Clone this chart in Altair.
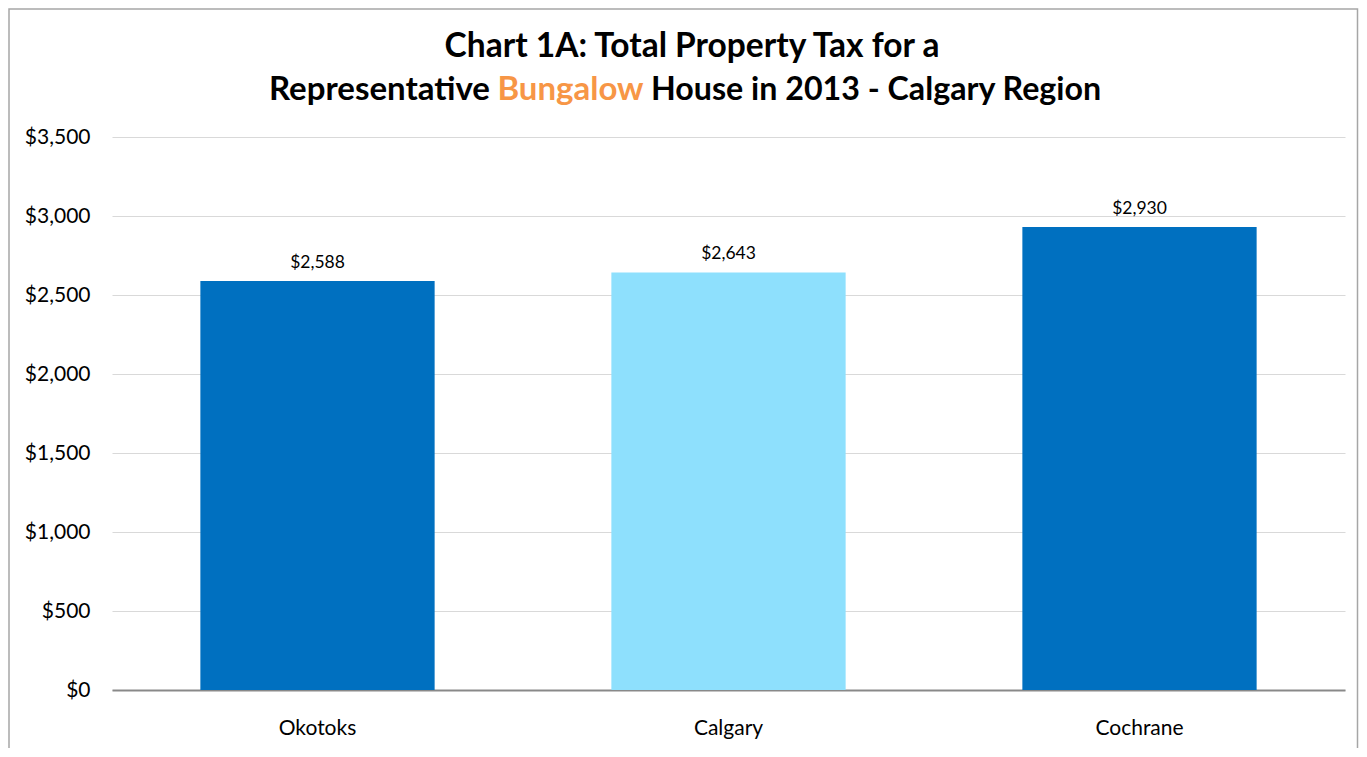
import altair as alt
import pandas as pd

categories = ["Okotoks", "Calgary", "Cochrane"]
values = [2588, 2643, 2930]
bar_colors = ["#0070C0", "#8EE0FD", "#0070C0"]
y_ticks = [0, 500, 1000, 1500, 2000, 2500, 3000, 3500]

title_line1 = "Chart 1A: Total Property Tax for a"
title_line2_a = "Representative"
title_line2_b = "Bungalow"
title_line2_c = "House in 2013 - Calgary Region"

FONT = "Lato"
W, H = 1233, 553

df = pd.DataFrame({"Municipality": categories, "Tax": values, "Colour": bar_colors})

x_enc = alt.X(
    "Municipality:N",
    sort=categories,
    scale=alt.Scale(paddingInner=0.43, paddingOuter=0.215),
    axis=alt.Axis(
        title=None, labelAngle=0, ticks=False, labelFontSize=21, labelFont=FONT,
        labelColor="#000000", labelPadding=27, domainColor="#898989", domainWidth=2,
    ),
)
y_enc = alt.Y(
    "Tax:Q",
    scale=alt.Scale(domain=[0, 3500], nice=False),
    axis=alt.Axis(
        title=None, values=y_ticks, format="$,.0f", ticks=False, domain=False,
        labelFontSize=21, labelFont=FONT, labelColor="#000000", labelPadding=22,
        gridColor="#d9d9d9", gridWidth=1,
    ),
)

bars = alt.Chart(df).mark_bar().encode(
    x=x_enc,
    y=y_enc,
    color=alt.Color("Colour:N", scale=None),
)

labels = alt.Chart(df).mark_text(
    baseline="bottom", dy=-9, fontSize=17.5, font=FONT, color="#000000"
).encode(
    x=alt.X("Municipality:N", sort=categories),
    y=alt.Y("Tax:Q"),
    text=alt.Text("Tax:Q", format="$,.0f"),
)

title_df = pd.DataFrame({"t": [0]})

def title_text(txt, xpos, ypos, align, color, size=33):
    return alt.Chart(title_df).mark_text(
        text=txt, align=align, baseline="alphabetic", fontSize=size,
        fontWeight="bold", font=FONT, color=color,
    ).encode(x=alt.value(xpos), y=alt.value(ypos))

t1 = title_text(title_line1, 580, -80, "center", "#000000", 33.5)
t2a = title_text(title_line2_a, 378, -37, "right", "#000000")
t2b = title_text(title_line2_b, 458.5, -37, "center", "#F79646")
t2c = title_text(title_line2_c, 539, -37, "left", "#000000", 32.2)

frame = alt.Chart(title_df).mark_rect(
    filled=False, stroke="#a6a6a6", strokeWidth=1.5
).encode(
    x=alt.value(-103), x2=alt.value(1245.5), y=alt.value(-128), y2=alt.value(660)
)

chart = alt.layer(frame, bars, labels, t1, t2a, t2b, t2c).properties(
    width=W, height=H,
    autosize=alt.AutoSizeParams(type="none"),
    padding={"left": 104, "top": 129, "right": 14, "bottom": 58},
    background="#ffffff",
).configure_view(stroke=None)

chart.save("out.html", embed_options={"renderer": "svg", "actions": False})
